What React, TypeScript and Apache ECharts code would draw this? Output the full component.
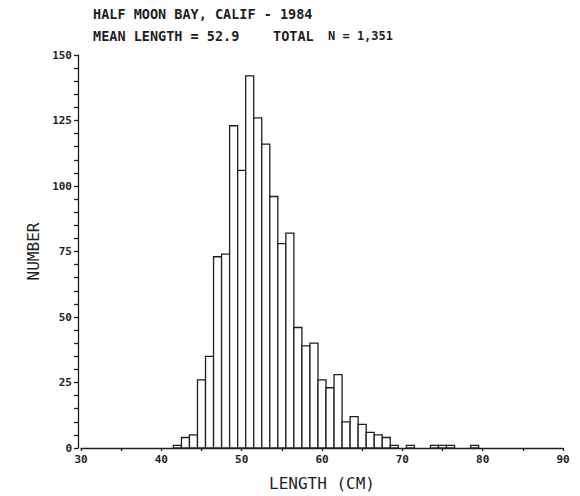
import React, { useEffect, useRef } from "react";
import * as echarts from "echarts";

const lengthsCm = [42, 43, 44, 45, 46, 47, 48, 49, 50, 51, 52, 53, 54, 55, 56, 57, 58, 59, 60, 61, 62, 63, 64, 65, 66, 67, 68, 69, 71, 74, 75, 76, 79];
const counts = [1, 4, 5, 26, 35, 73, 74, 123, 106, 142, 126, 116, 96, 78, 82, 46, 39, 40, 26, 23, 28, 10, 12, 9, 6, 5, 4, 1, 1, 1, 1, 1, 1];
const xTicks = [30, 40, 50, 60, 70, 80, 90];
const yTicks = [0, 25, 50, 75, 100, 125, 150];

const titleLine1 = "HALF MOON BAY, CALIF - 1984";
const meanText = "MEAN LENGTH = 52.9";
const totalText = "TOTAL";
const nText = "N = 1,351";

const INK = "#1e1e1e";
const MONO = "'DejaVu Sans Mono', 'Liberation Mono', monospace";

export default function App() {
  const ref = useRef<HTMLDivElement>(null);
  useEffect(() => {
    if (!ref.current) return;
    const chart = echarts.init(ref.current, null, { renderer: "svg" });
    const data = lengthsCm.map((x, i) => [x, counts[i]]);
    chart.setOption({
      animation: false,
      backgroundColor: "#ffffff",
      grid: { left: 81, right: 17, top: 55, bottom: 41 },
      graphic: [
        { type: "text", left: 93, top: 7, style: { text: titleLine1, font: `bold 13.5px ${MONO}`, fill: INK } },
        { type: "text", left: 93, top: 29, style: { text: meanText, font: `bold 13.5px ${MONO}`, fill: INK } },
        { type: "text", left: 273, top: 29, style: { text: totalText, font: `bold 13.5px ${MONO}`, fill: INK } },
        { type: "text", left: 328, top: 30, style: { text: nText, font: `bold 12px ${MONO}`, fill: INK } },
      ],
      xAxis: {
        type: "value",
        min: 30,
        max: 90,
        interval: 5,
        name: "LENGTH (CM)",
        nameLocation: "middle",
        nameGap: 27,
        nameTextStyle: { fontFamily: MONO, fontSize: 16, color: INK },
        axisLine: { show: true, lineStyle: { color: INK, width: 1.3 } },
        axisTick: { show: true, length: 3, lineStyle: { color: INK, width: 1.3 } },
        axisLabel: {
          color: INK,
          fontFamily: MONO,
          fontSize: 11,
          fontWeight: "bold",
          margin: 6,
          formatter: (v: number) => (xTicks.includes(v) ? String(v) : ""),
        },
        splitLine: { show: false },
      },
      yAxis: {
        type: "value",
        min: 0,
        max: 150,
        interval: 25,
        offset: 3,
        name: "NUMBER",
        nameLocation: "middle",
        nameGap: 34,
        nameRotate: 90,
        nameTextStyle: { fontFamily: MONO, fontSize: 16, color: INK },
        axisLine: { show: true, lineStyle: { color: INK, width: 1.3 } },
        axisTick: { show: true, length: 4, lineStyle: { color: INK, width: 1.3 } },
        minorTick: { show: true, splitNumber: 5, length: 4, lineStyle: { color: INK, width: 1.3 } },
        axisLabel: {
          color: INK,
          fontFamily: MONO,
          fontSize: 11,
          fontWeight: "bold",
          margin: 6,
          formatter: (v: number) => (yTicks.includes(v) ? String(v) : ""),
        },
        splitLine: { show: false },
      },
      series: [
        {
          type: "custom",
          data,
          renderItem: (params: any, api: any) => {
            const x = api.value(0);
            const y = api.value(1);
            const p0 = api.coord([x - 0.5, y]);
            const p1 = api.coord([x + 0.5, 0]);
            return {
              type: "rect",
              shape: { x: p0[0], y: p0[1], width: p1[0] - p0[0], height: p1[1] - p0[1] },
              style: { fill: "#ffffff", stroke: INK, lineWidth: 1.3 },
            };
          },
        },
      ],
    });
    return () => chart.dispose();
  }, []);
  return <div ref={ref} style={{ position: "absolute", left: 0, top: 0, width: 580, height: 496 }} />;
}
